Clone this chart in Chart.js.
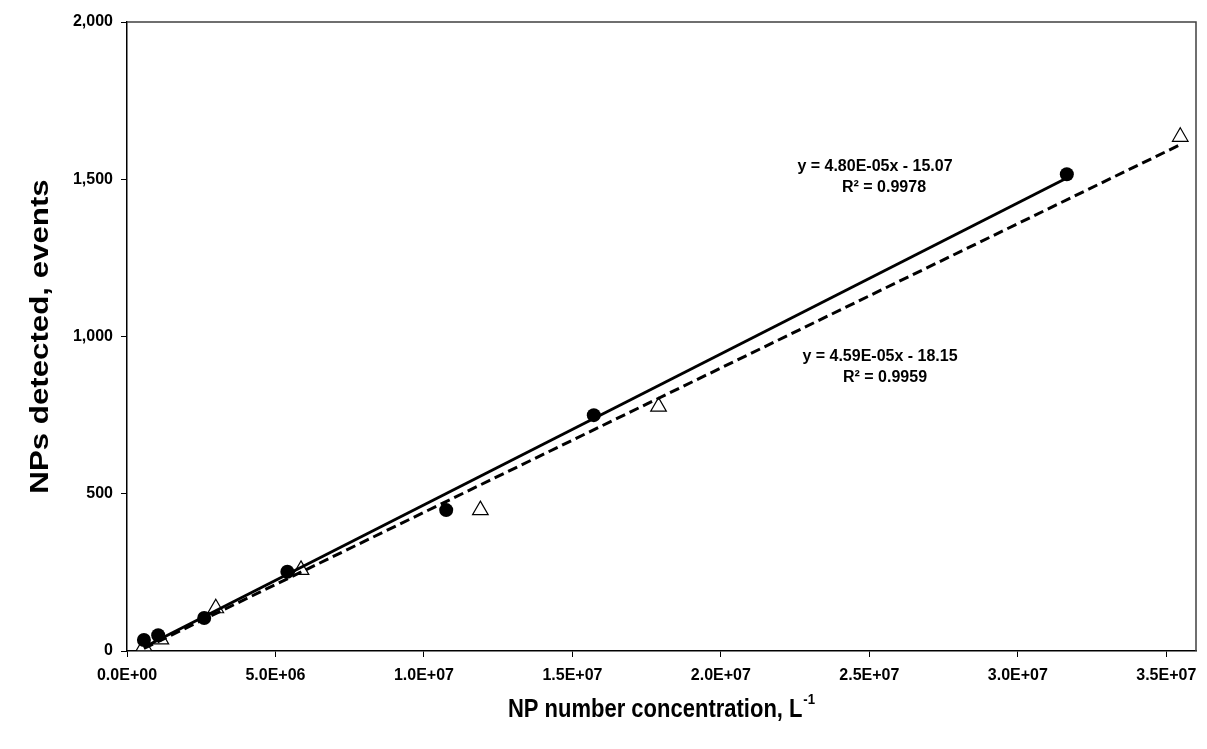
<!DOCTYPE html>
<html>
<head>
<meta charset="utf-8">
<script src="https://cdn.jsdelivr.net/npm/chart.js@4.4.1/dist/chart.umd.min.js"></script>
<style>
html, body { margin: 0; padding: 0; background: #fff; }
#wrap { width: 1207px; height: 749px; }
</style>
</head>
<body>
<div id="wrap"><canvas id="npChart"></canvas></div>
<script>
// filled circles
const circleX = [5.7e5, 1.05e6, 2.6e6, 5.4e6, 1.075e7, 1.572e7, 3.165e7];
const circleY = [35, 50, 105, 252, 448, 750, 1516];
// open triangles
const triangleX = [5.7e5, 1.14e6, 2.99e6, 5.86e6, 1.19e7, 1.79e7, 3.547e7];
const triangleY = [15, 37, 136, 258, 448, 777, 1635];
// trend lines (end points)
const trendCircleX = [5.7e5, 3.165e7];
const trendCircleY = [12, 1504];
const trendTriangleX = [5.7e5, 3.547e7];
const trendTriangleY = [8, 1610];

const xTicks = [0, 5e6, 1e7, 1.5e7, 2e7, 2.5e7, 3e7, 3.5e7];
const xTickLabels = ['0.0E+00', '5.0E+06', '1.0E+07', '1.5E+07', '2.0E+07', '2.5E+07', '3.0E+07', '3.5E+07'];
const yTicks = [0, 500, 1000, 1500, 2000];
const yTickLabels = ['0', '500', '1,000', '1,500', '2,000'];

const eqCircle = ['y = 4.80E-05x - 15.07', 'R\u00b2 = 0.9978'];
const eqTriangle = ['y = 4.59E-05x - 18.15', 'R\u00b2 = 0.9959'];

const toPoints = (xs, ys) => xs.map((x, i) => ({ x: x, y: ys[i] }));

const FONT = '"Liberation Sans", Arial, sans-serif';

// frame, axis titles and regression labels
const extras = {
    id: 'extras',
    afterDraw(chart) {
        const c = chart.ctx;
        const a = chart.chartArea;
        c.save();
        // top + right frame
        c.strokeStyle = '#404040';
        c.lineWidth = 1.5;
        c.beginPath();
        c.moveTo(a.left, a.top);
        c.lineTo(a.right, a.top);
        c.lineTo(a.right, a.bottom);
        c.stroke();

        c.fillStyle = '#000';
        c.textAlign = 'center';
        c.textBaseline = 'middle';

        // equations
        c.font = 'bold 16px ' + FONT;
        c.fillText(eqCircle[0], 875, 167);
        c.fillText(eqCircle[1], 884, 188);
        c.fillText(eqTriangle[0], 880, 357);
        c.fillText(eqTriangle[1], 885, 378);

        // x title with superscript (slightly condensed)
        const cx = (a.left + a.right) / 2;
        const main = 'NP number concentration, L';
        const sup = '-1';
        c.save();
        c.translate(cx, 710);
        c.scale(0.88, 1);
        c.font = 'bold 25px ' + FONT;
        const wMain = c.measureText(main).width;
        c.font = 'bold 15px ' + FONT;
        const wSup = c.measureText(sup).width;
        const x0 = -(wMain + wSup + 1) / 2;
        c.textAlign = 'left';
        c.font = 'bold 25px ' + FONT;
        c.fillText(main, x0, 0);
        c.font = 'bold 15px ' + FONT;
        c.fillText(sup, x0 + wMain + 1, -10);
        c.restore();

        // y title (stretched along its length)
        c.translate(41, (a.top + a.bottom) / 2);
        c.rotate(-Math.PI / 2);
        c.scale(1.25, 1);
        c.textAlign = 'center';
        c.font = 'bold 25px ' + FONT;
        c.fillText('NPs detected, events', 0, 0);
        c.restore();
    }
};

new Chart(document.getElementById('npChart'), {
    type: 'scatter',
    data: {
        datasets: [
            {
                label: 'trend circles',
                type: 'line',
                data: toPoints(trendCircleX, trendCircleY),
                borderColor: '#000',
                borderWidth: 3,
                pointRadius: 0,
                fill: false,
                order: 1
            },
            {
                label: 'circles',
                data: toPoints(circleX, circleY),
                pointStyle: 'circle',
                pointRadius: 7,
                backgroundColor: '#000',
                borderColor: '#000',
                borderWidth: 0,
                order: 2
            },
            {
                label: 'trend triangles',
                type: 'line',
                data: toPoints(trendTriangleX, trendTriangleY),
                borderColor: '#000',
                borderWidth: 3,
                borderDash: [10, 5],
                pointRadius: 0,
                fill: false,
                order: 3
            },
            {
                label: 'triangles',
                data: toPoints(triangleX, triangleY),
                pointStyle: 'triangle',
                pointRadius: 9,
                backgroundColor: '#fff',
                borderColor: '#000',
                borderWidth: 1.2,
                order: 4
            }
        ]
    },
    options: {
        responsive: true,
        maintainAspectRatio: false,
        animation: false,
        layout: { padding: { top: 22, right: 11, left: 0, bottom: 0 } },
        plugins: {
            legend: { display: false },
            tooltip: { enabled: false }
        },
        scales: {
            x: {
                type: 'linear',
                min: 0,
                max: 3.6e7,
                afterBuildTicks: s => { s.ticks = xTicks.map(v => ({ value: v })); },
                afterFit: s => { s.height = 98; },
                ticks: {
                    color: '#000',
                    font: { family: FONT, size: 16, weight: 'bold' },
                    padding: 9,
                    maxRotation: 0,
                    autoSkip: false,
                    callback: (v, i) => xTickLabels[i]
                },
                grid: { display: true, drawOnChartArea: false, drawTicks: true, tickLength: 6, color: '#000', lineWidth: 1 },
                border: { display: true, color: '#000', width: 1.5 }
            },
            y: {
                type: 'linear',
                min: 0,
                max: 2000,
                afterBuildTicks: s => { s.ticks = yTicks.map(v => ({ value: v })); },
                afterFit: s => { s.width = 127; },
                ticks: {
                    color: '#000',
                    font: { family: FONT, size: 16, weight: 'bold' },
                    padding: 8,
                    autoSkip: false,
                    callback: (v, i) => yTickLabels[i]
                },
                grid: { display: true, drawOnChartArea: false, drawTicks: true, tickLength: 6, color: '#000', lineWidth: 1 },
                border: { display: true, color: '#000', width: 1.5 }
            }
        }
    },
    plugins: [extras]
});
</script>
</body>
</html>
